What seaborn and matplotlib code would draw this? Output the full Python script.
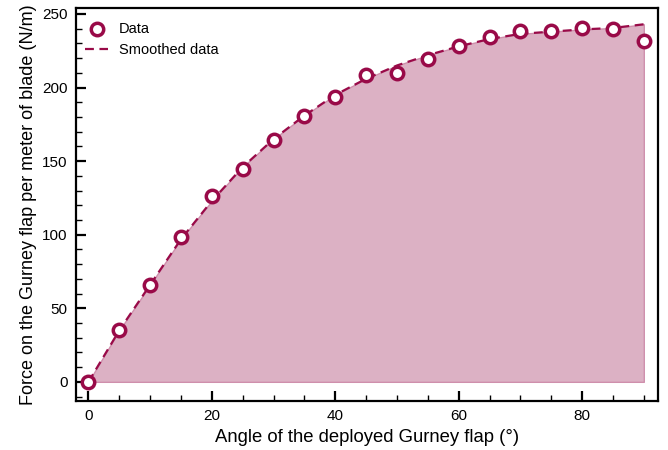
import matplotlib
matplotlib.use("Agg")
import matplotlib.pyplot as plt
import seaborn as sns
import numpy as np
import pandas as pd
from matplotlib.ticker import MultipleLocator

angles = [0, 5, 10, 15, 20, 25, 30, 35, 40, 45, 50, 55, 60, 65, 70, 75, 80, 85, 90]
force = [0, 35.5, 65.5, 98.5, 126.5, 144.5, 164.5, 180.5, 193.5, 208.5, 210, 219.5, 228.5, 234.5, 238.5, 238.5, 240.5, 240, 231.5]
smoothed = [0, 35, 66, 97, 123, 146, 165, 181, 195, 206, 215, 222, 228, 233, 236.5, 238, 239.5, 240.5, 243]

df = pd.DataFrame({"angle": angles, "force": force, "smoothed": smoothed})

sns.set_style("ticks")
plt.rcParams['font.family'] = ['Liberation Sans', 'DejaVu Sans']
plt.rcParams['text.color'] = 'black'
plt.rcParams['axes.labelcolor'] = 'black'
plt.rcParams['xtick.color'] = 'black'
plt.rcParams['ytick.color'] = 'black'

maroon = "#990a48"
fillc = "#dcb1c4"

fig = plt.figure(figsize=(6.68, 4.5), dpi=100)
ax = fig.add_axes([0.114, 0.109, 0.871, 0.873])

ax.fill_between(df["angle"], 0, df["smoothed"], facecolor=fillc, edgecolor="#cf8fac", linewidth=1.0, zorder=1)
sns.lineplot(data=df, x="angle", y="smoothed", ax=ax, color=maroon, linestyle=(0, (4, 2.5)), linewidth=1.6, label="Smoothed data", zorder=2)
sns.scatterplot(data=df, x="angle", y="force", ax=ax, marker="o", s=80, facecolor="white", edgecolor=maroon, linewidth=2.5, label="Data", zorder=3)

ax.set_xlim(-2, 92.3)
ax.set_ylim(-13, 254)
ax.xaxis.set_major_locator(MultipleLocator(20))
ax.xaxis.set_minor_locator(MultipleLocator(5))
ax.yaxis.set_major_locator(MultipleLocator(50))
ax.yaxis.set_minor_locator(MultipleLocator(10))
ax.tick_params(which="major", direction="in", length=7, width=1.6, labelsize=11, colors="black", pad=6)
ax.tick_params(which="minor", direction="in", length=4, width=1.0, colors="black")
for sp in ax.spines.values():
    sp.set_linewidth(1.6)
    sp.set_color("black")

ax.set_xlabel("Angle of the deployed Gurney flap (°)", fontsize=13.3, color="black")
ax.set_ylabel("Force on the Gurney flap per meter of blade (N/m)", fontsize=13, color="black")

handles, labels = ax.get_legend_handles_labels()
order = [labels.index("Data"), labels.index("Smoothed data")]
leg = ax.legend([handles[i] for i in order], [labels[i] for i in order], loc="upper left", frameon=False,
                bbox_to_anchor=(0.0, 0.987),
                fontsize=10.5, handlelength=1.6, handletextpad=0.75, borderaxespad=0.2, labelspacing=0.5)
for t in leg.get_texts():
    t.set_color("black")

fig.savefig("out.png", dpi=100)
